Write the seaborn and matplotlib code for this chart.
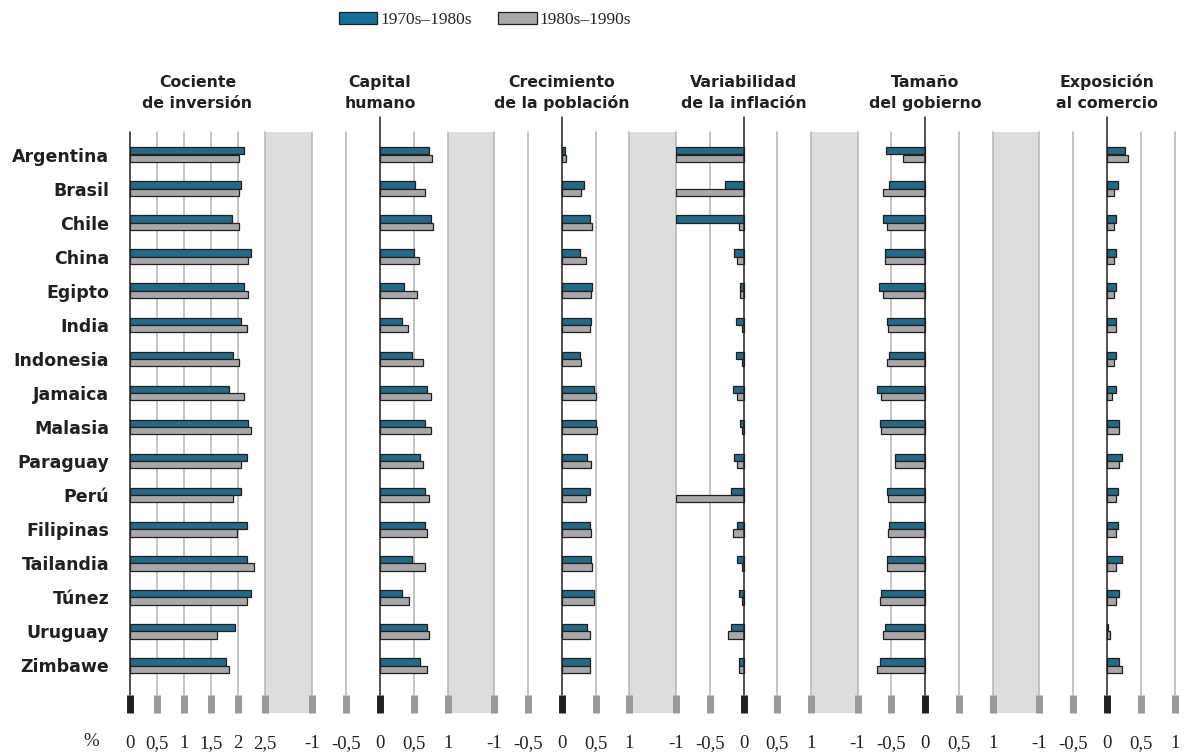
import matplotlib
matplotlib.use("Agg")
import matplotlib.pyplot as plt
import numpy as np
import pandas as pd
import seaborn as sns
from matplotlib.patches import Rectangle, Patch

# ---------------- data ----------------
countries = ["Argentina", "Brasil", "Chile", "China", "Egipto", "India", "Indonesia",
             "Jamaica", "Malasia", "Paraguay", "Perú", "Filipinas", "Tailandia",
             "Túnez", "Uruguay", "Zimbawe"]
periods = ["1970s–1980s", "1980s–1990s"]

inv_7080 = [2.12, 2.06, 1.89, 2.24, 2.12, 2.06, 1.91, 1.84, 2.19, 2.17, 2.06, 2.17, 2.17, 2.24, 1.95, 1.78]
inv_8090 = [2.01, 2.01, 2.01, 2.19, 2.19, 2.17, 2.01, 2.12, 2.24, 2.06, 1.91, 1.99, 2.30, 2.17, 1.61, 1.84]

cap_7080 = [0.73, 0.52, 0.75, 0.50, 0.36, 0.32, 0.48, 0.70, 0.66, 0.59, 0.66, 0.66, 0.48, 0.32, 0.70, 0.59]
cap_8090 = [0.77, 0.66, 0.79, 0.57, 0.54, 0.41, 0.64, 0.75, 0.75, 0.64, 0.73, 0.70, 0.66, 0.43, 0.73, 0.70]

pob_7080 = [0.05, 0.33, 0.42, 0.27, 0.45, 0.43, 0.27, 0.47, 0.50, 0.38, 0.41, 0.41, 0.43, 0.47, 0.38, 0.41]
pob_8090 = [0.07, 0.29, 0.45, 0.36, 0.43, 0.41, 0.29, 0.50, 0.52, 0.43, 0.36, 0.43, 0.45, 0.47, 0.41, 0.41]

infl_7080 = [-1.0, -0.28, -1.0, -0.14, -0.05, -0.11, -0.11, -0.16, -0.05, -0.14, -0.18, -0.09, -0.09, -0.07, -0.19, -0.07]
infl_8090 = [-1.0, -1.0, -0.07, -0.09, -0.05, -0.02, -0.02, -0.10, -0.02, -0.09, -1.0, -0.16, -0.02, -0.02, -0.23, -0.07]

gob_7080 = [-0.58, -0.54, -0.63, -0.59, -0.68, -0.56, -0.54, -0.71, -0.67, -0.45, -0.56, -0.54, -0.57, -0.65, -0.59, -0.67]
gob_8090 = [-0.33, -0.63, -0.56, -0.59, -0.63, -0.55, -0.57, -0.65, -0.65, -0.45, -0.55, -0.55, -0.56, -0.67, -0.63, -0.71]

com_7080 = [0.27, 0.16, 0.14, 0.14, 0.14, 0.14, 0.14, 0.14, 0.18, 0.22, 0.16, 0.16, 0.22, 0.18, 0.02, 0.18]
com_8090 = [0.31, 0.11, 0.11, 0.11, 0.11, 0.14, 0.11, 0.07, 0.18, 0.18, 0.14, 0.14, 0.14, 0.14, 0.05, 0.22]

titles = [("Cociente", "de inversión"), ("Capital", "humano"),
          ("Crecimiento", "de la población"), ("Variabilidad", "de la inflación"),
          ("Tamaño", "del gobierno"), ("Exposición", "al comercio")]
series = [(inv_7080, inv_8090), (cap_7080, cap_8090), (pob_7080, pob_8090),
          (infl_7080, infl_8090), (gob_7080, gob_8090), (com_7080, com_8090)]
tick_sets = [[0, 0.5, 1, 1.5, 2, 2.5]] + [[-1, -0.5, 0, 0.5, 1]] * 5

rows = []
for (t1, t2), (a, b) in zip(titles, series):
    name = t1 + " " + t2
    for c, va, vb in zip(countries, a, b):
        rows.append((name, c, periods[0], va))
        rows.append((name, c, periods[1], vb))
df = pd.DataFrame(rows, columns=["indicador", "pais", "periodo", "valor"])

# ---------------- style ----------------
sns.set_theme(style="white")
plt.rcParams["font.family"] = ["DejaVu Sans"]

BLUE = "#156f97"
GRAY = "#a7a8ab"
EDGE = "#231f20"
GRID = "#b3b4b6"
TICKG = "#98999b"
ZONE = "#dcdddf"
TXT = "#231f20"
SERIF = "Liberation Serif"

W, H = 1191, 753
fig = plt.figure(figsize=(W / 100, H / 100), dpi=100)

TOP, BOT = 132, 695
ROW0, ROWN, STEP = 154.5, 665.5, (665.5 - 154.5) / 15
y_top = -(ROW0 - TOP) / STEP
y_bot = 15 + (BOT - ROWN) / STEP

# panel pixel extents
edges = [(130, 265)]
for k in range(5):
    z = 380 + k * 181.75
    edges.append((z - 67.7, z + 67.7))


def fmt(t):
    return f"{t:g}".replace(".", ",")


for i, ((t1, t2), ticks, (l, r)) in enumerate(zip(titles, tick_sets, edges)):
    ax = fig.add_axes([l / W, 1 - BOT / H, (r - l) / W, (BOT - TOP) / H])
    ax.patch.set_alpha(0)
    sub = df[df["indicador"] == t1 + " " + t2]
    sns.barplot(data=sub, x="valor", y="pais", hue="periodo", order=countries,
                hue_order=periods, palette=[BLUE, GRAY], orient="h", width=0.43,
                edgecolor=EDGE, linewidth=0.9, errorbar=None, legend=False, ax=ax)
    lo, hi = ticks[0], ticks[-1]
    ax.set_xlim(lo, hi)
    ax.set_ylim(y_bot, y_top)
    for s in ax.spines.values():
        s.set_visible(False)
    ax.set_xlabel("")
    ax.set_ylabel("")
    ax.grid(False)
    for t in ticks:
        if t != 0:
            ax.axvline(t, color=GRID, lw=1.1, zorder=0.5, clip_on=False)
    ext = 1.0 if i == 0 else 1 + (TOP - 117) / (BOT - TOP)
    ax.axvline(0, ymin=0, ymax=ext, color=EDGE, lw=1.1, zorder=3, clip_on=False)

    ax.set_xticks(ticks)
    ax.set_xticklabels([fmt(t) for t in ticks], fontfamily=SERIF, fontsize=13.5, color=TXT)
    ax.tick_params(axis="x", length=13, width=5, pad=16, direction="out", bottom=True)
    for t, tk in zip(ticks, ax.xaxis.get_major_ticks()):
        c = EDGE if t == 0 else TICKG
        tk.tick1line.set_markeredgecolor(c)
        tk.tick1line.set_color(c)

    if i == 0:
        ax.set_yticks(range(len(countries)))
        ax.set_yticklabels(countries, fontweight="bold", fontsize=12.5, color=TXT)
        ax.tick_params(axis="y", length=0, pad=15, left=False)
    else:
        ax.set_yticks([])

    cx = (l + r) / 2 / W
    fig.text(cx, 1 - 87 / H, t1, ha="center", va="baseline", fontweight="bold",
             fontsize=11.3, color=TXT)
    fig.text(cx, 1 - 108 / H, t2, ha="center", va="baseline", fontweight="bold",
             fontsize=11.3, color=TXT)

# gray separators between panels
for k in range(5):
    x0 = edges[k][1]
    x1 = edges[k + 1][0]
    fig.add_artist(Rectangle((x0 / W, 1 - 713 / H), (x1 - x0) / W, (713 - TOP) / H,
                             transform=fig.transFigure, facecolor=ZONE,
                             edgecolor="none", zorder=-1))

fig.text(91 / W, 1 - 742 / H, "%", ha="center", va="center", fontfamily=SERIF,
         fontsize=13.5, color=TXT)

handles = [Patch(facecolor=BLUE, edgecolor=EDGE, linewidth=0.9, label=periods[0]),
           Patch(facecolor=GRAY, edgecolor=EDGE, linewidth=0.9, label=periods[1])]
fig.legend(handles=handles, loc="center", bbox_to_anchor=(485 / W, 1 - 20 / H),
           ncol=2, frameon=False, prop={"family": SERIF, "size": 12.5},
           handlelength=2.2, handleheight=0.7, handletextpad=0.15,
           columnspacing=1.55, borderaxespad=0, borderpad=0)

fig.savefig("out.png", dpi=100)
